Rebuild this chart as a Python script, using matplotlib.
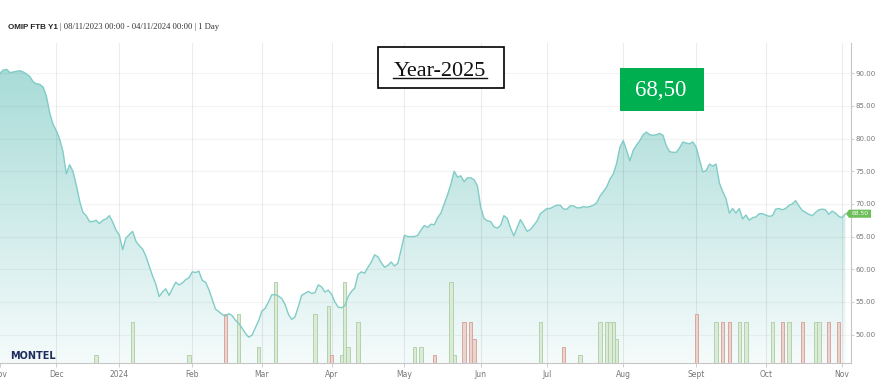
import matplotlib.pyplot as plt
import matplotlib.transforms as mtransforms
from matplotlib.colors import LinearSegmentedColormap
from matplotlib.patches import Rectangle, Polygon
from matplotlib.lines import Line2D
import numpy as np
import pandas as pd

# trading calendar of the series (weekdays minus the christmas/new year closures)
start, end = "2023-11-08", "2024-11-04"
holidays = ["2023-12-25", "2023-12-26", "2024-01-01"]

# daily close, OMIP FTB Y1 (EUR/MWh), one value per trading day
price = [
    90.0, 90.5, 90.6, 90.1, 90.2, 90.3, 90.4, 90.2, 89.9, 89.5,
    88.7, 88.4, 88.3, 87.9, 86.5, 83.9, 82.2, 81.2, 79.9, 78.0,
    74.6, 76.0, 75.0, 72.9, 70.5, 68.7, 68.2, 67.3, 67.3, 67.5,
    67.0, 67.5, 67.7, 68.2, 67.2, 66.0, 65.2, 63.0, 64.8, 65.3,
    65.8, 64.3, 63.6, 63.1, 62.0, 60.5, 59.0, 57.7, 55.8, 56.5,
    57.0, 56.0, 57.0, 58.0, 57.6, 57.9, 58.4, 58.7, 59.6, 59.5,
    59.7, 58.3, 58.0, 56.9, 55.4, 53.9, 53.5, 53.1, 52.8, 53.2,
    52.9, 52.2, 51.7, 51.0, 50.2, 49.6, 49.9, 51.0, 52.1, 53.6,
    54.0, 55.0, 56.1, 56.1, 55.9, 55.5, 54.6, 53.1, 52.3, 52.7,
    54.3, 56.0, 56.3, 56.6, 56.3, 56.4, 57.6, 57.3, 56.5, 56.8,
    56.2, 55.0, 54.2, 54.1, 54.4, 55.8, 56.6, 57.1, 59.2, 59.6,
    59.4, 60.3, 61.1, 62.2, 61.9, 61.0, 60.3, 60.6, 61.1, 60.5,
    60.9, 63.0, 65.2, 65.0, 65.0, 65.0, 65.2, 66.0, 66.7, 66.4,
    66.9, 66.8, 67.9, 68.6, 70.0, 71.4, 73.0, 75.0, 74.1, 74.3,
    73.4, 74.0, 74.0, 73.7, 72.8, 69.5, 67.8, 67.4, 67.3, 66.5,
    66.3, 66.7, 68.2, 67.8, 66.3, 65.1, 66.4, 67.6, 66.7, 65.8,
    66.1, 66.7, 67.4, 68.5, 68.9, 69.3, 69.3, 69.6, 69.8, 69.8,
    69.2, 69.2, 69.7, 69.7, 69.4, 69.4, 69.6, 69.5, 69.6, 69.8,
    70.2, 71.2, 71.9, 72.6, 73.8, 74.6, 76.2, 78.7, 79.7, 78.2,
    76.6, 78.2, 79.0, 79.7, 80.6, 81.0, 80.6, 80.5, 80.6, 80.8,
    80.5, 78.9, 78.0, 77.9, 77.9, 78.6, 79.5, 79.3, 79.2, 79.5,
    78.7, 76.8, 74.9, 75.1, 76.1, 75.8, 76.1, 73.2, 71.9, 70.8,
    68.6, 69.3, 68.6, 69.3, 67.7, 68.3, 67.5, 67.9, 68.0, 68.5,
    68.5, 68.3, 68.1, 68.2, 69.2, 69.3, 69.1, 69.3, 69.8, 70.0,
    70.5, 69.7, 69.0, 68.7, 68.4, 68.2, 68.7, 69.1, 69.2, 69.1,
    68.4, 68.9, 68.6, 68.1, 67.9, 68.5,
]

# traded volume (contracts) on the days that had trades
vol_dates = [
    "2023-12-19", "2024-01-08", "2024-01-31", "2024-02-15", "2024-02-21",
    "2024-02-29", "2024-03-07", "2024-03-25", "2024-03-29", "2024-04-01",
    "2024-04-04", "2024-04-05", "2024-04-08", "2024-04-11", "2024-05-06",
    "2024-05-08", "2024-05-14", "2024-05-21", "2024-05-22", "2024-05-27",
    "2024-05-29", "2024-05-30", "2024-06-27", "2024-07-08", "2024-07-15",
    "2024-07-23", "2024-07-25", "2024-07-26", "2024-07-29", "2024-07-30",
    "2024-09-02", "2024-09-10", "2024-09-12", "2024-09-16", "2024-09-19",
    "2024-09-23", "2024-10-03", "2024-10-08", "2024-10-10", "2024-10-16",
    "2024-10-22", "2024-10-23", "2024-10-28", "2024-10-31",
]
vol_size = [
    1, 5, 1, 6, 6,
    2, 10, 6, 7, 1,
    1, 10, 2, 5, 2,
    2, 1, 10, 1, 5,
    5, 3, 5, 2, 1,
    5, 5, 5, 5, 3,
    6, 5, 5, 5, 5,
    5, 5, 5, 5, 5,
    5, 5, 5, 5,
]
vol_up = [
    1, 1, 1, 0, 1,
    1, 1, 1, 1, 0,
    1, 1, 1, 1, 1,
    1, 0, 1, 1, 0,
    0, 0, 1, 0, 1,
    1, 1, 1, 1, 1,
    0, 1, 0, 0, 1,
    1, 1, 0, 1, 0,
    1, 1, 0, 0,
]

month_labels = ["Nov", "Dec", "2024", "Feb", "Mar", "Apr", "May", "Jun",
                "Jul", "Aug", "Sept", "Oct", "Nov"]
y_ticks = [50, 55, 60, 65, 70, 75, 80, 85, 90]

days = pd.bdate_range(start, end)
days = days[~days.isin(pd.to_datetime(holidays))]
x = np.arange(len(days))
month_pos = pd.Series(x, index=days).groupby([days.year, days.month]).first().values
vol_pos = days.get_indexer(pd.to_datetime(vol_dates))

W, H = 886, 392


def fx(px):
    return px / W


def fy(py):
    return 1 - py / H


fig = plt.figure(figsize=(W / 100, H / 100), dpi=100)
ax = fig.add_axes([0, fy(363), fx(851), (363 - 43) / H])
ax.set_xlim(0, 256.7)
ax.set_ylim(45.64, 94.64)
ax.patch.set_visible(False)

# gradient area under the line
cmap = LinearSegmentedColormap.from_list("area", ["#a2d9d5", "#f5fbfb"])
grad = np.linspace(0, 1, 256).reshape(-1, 1)
im = ax.imshow(grad, cmap=cmap, aspect="auto", origin="upper",
               extent=[0, 256.7, 45.64, 94.64], zorder=1)
area = ax.fill_between(x, price, 45.64, facecolor="none", edgecolor="none")
im.set_clip_path(area.get_paths()[0], transform=ax.transData)

# grid
for m in month_pos[1:]:
    ax.axvline(m, color=(0, 0, 0, 0.075), lw=0.8, zorder=1.5)
for t in y_ticks:
    ax.axhline(t, color=(0, 0, 0, 0.045), lw=0.8, zorder=1.5)

# volume bars, scaled on their own axis fraction
vol_max = 39.3
blend = mtransforms.blended_transform_factory(ax.transData, ax.transAxes)
for p, v, up in zip(vol_pos, vol_size, vol_up):
    face = "#dcebd7" if up else "#ecd3ce"
    edge = "#b3d2ab" if up else "#d6a89f"
    ax.add_patch(Rectangle((p - 0.5, 0), 1.0, v / vol_max, transform=blend,
                           facecolor=face, edgecolor=edge, lw=0.7, zorder=2))

ax.plot(x, price, color="#80ccc7", lw=1.0, zorder=3)

# axes styling
for s in ["top", "left"]:
    ax.spines[s].set_visible(False)
for s in ["right", "bottom"]:
    ax.spines[s].set_color("#c6c6c6")
    ax.spines[s].set_linewidth(0.8)
ax.yaxis.tick_right()
ax.set_yticks(y_ticks, [f"{t:.2f}" for t in y_ticks])
ax.set_xticks(month_pos, month_labels)
ax.tick_params(axis="y", labelsize=5, colors="#c6c6c6", labelcolor="#777777",
               length=2, pad=1.5, width=0.6)
ax.tick_params(axis="x", labelsize=5.5, colors="#c6c6c6", labelcolor="#777777",
               length=3, pad=2, width=0.6)

# last value tag on the price axis
last = price[-1]
tag = Polygon([(0.9941, last), (0.9976, last + 0.62), (1.0235, last + 0.62),
               (1.0235, last - 0.62), (0.9976, last - 0.62)],
              closed=True, transform=mtransforms.blended_transform_factory(ax.transAxes, ax.transData),
              facecolor="#6cbe59", edgecolor="none", clip_on=False, zorder=5)
ax.add_patch(tag)
ax.text(1.0108, last, f"{last:.2f}", transform=tag.get_transform(), fontsize=4.3,
        color="white", ha="center", va="center", clip_on=False, zorder=6)

# header
fig.text(fx(7.5), fy(29), "OMIP FTB Y1", fontsize=5.8, fontweight="bold",
         family="Liberation Sans", color="#222222", va="baseline")
fig.text(fx(60), fy(29), "| 08/11/2023 00:00 - 04/11/2024 00:00 | 1 Day",
         fontsize=6.2, family="Liberation Serif", color="#333333", va="baseline")

# logo
fig.text(fx(10), fy(356), "MONTEL", fontsize=7, fontweight="bold",
         color="#1d2c5c", va="center", family="DejaVu Sans")

# Year-2025 box
fig.add_artist(Rectangle((fx(378), fy(88)), fx(126), 41 / H, transform=fig.transFigure,
                         facecolor="white", edgecolor="black", lw=1.2, zorder=10))
fig.text(fx(440), fy(75.5), "Year-2025", fontsize=16, family="Liberation Serif",
         color="#111111", ha="center", va="baseline", zorder=11)
fig.add_artist(Line2D([fx(393), fx(487)], [fy(77.5), fy(77.5)], transform=fig.transFigure,
                      color="#111111", lw=1.0, zorder=11))

# highlighted value box
fig.add_artist(Rectangle((fx(620), fy(111)), fx(84), 43 / H, transform=fig.transFigure,
                         facecolor="#00b050", edgecolor="none", zorder=10))
fig.text(fx(661), fy(90), "68,50", fontsize=16.5, family="Liberation Serif",
         color="white", ha="center", va="center", zorder=11)

fig.savefig("out.png", dpi=100)
